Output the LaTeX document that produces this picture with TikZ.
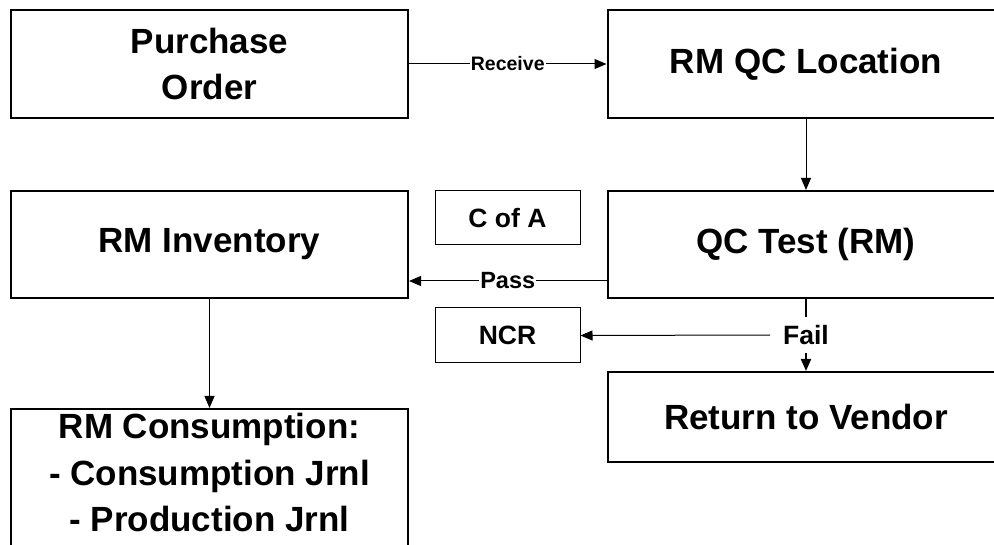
\documentclass[tikz,border=0pt]{standalone}
\usepackage{fontspec}
\setmainfont{Liberation Sans}
\usetikzlibrary{arrows.meta}
\tikzset{
  bigbox/.style={draw, line width=2pt, rectangle, minimum width=397pt, inner sep=0pt, align=center,
    font=\bfseries\fontsize{35}{46}\selectfont},
  smallbox/.style={draw, line width=1pt, rectangle, minimum width=145pt, minimum height=54pt, inner sep=0pt,
    font=\bfseries\fontsize{26.5}{30}\selectfont},
  conn/.style={line width=1pt, -{Triangle[length=12pt,width=10pt]}},
  lbl/.style={fill=white, inner sep=1pt},
}
\begin{document}
\begin{tikzpicture}[x=1pt,y=-1pt]
\useasboundingbox (0,0) rectangle (994,545);
\fill[white] (0,0) rectangle (994,545);
\clip (0,0) rectangle (994,545);
% boxes
\node[bigbox, minimum height=108pt] (po) at (209.5,64) {Purchase\\Order};
\node[bigbox, minimum height=108pt] (rmqc) at (806,64) {RM QC Location};
\node[bigbox, minimum height=107pt] (inv) at (209.5,244.5) {RM Inventory};
\node[bigbox, minimum height=107pt] (qct) at (806,244.5) {QC Test (RM)};
\node[bigbox, minimum height=90pt] (rtv) at (806,417) {Return to Vendor};
\node[bigbox, minimum height=170pt, anchor=north] (cons) at (209.5,408) {};
\node[anchor=north, inner sep=0pt, align=center, font=\bfseries\fontsize{35}{46.5}\selectfont] (constext) at (209.5,413)
  {RM Consumption:\\- Consumption Jrnl\\- Production Jrnl};
\node[smallbox] (coa) at (507.5,218) {C of A};
\node[smallbox, minimum height=55pt] (ncr) at (507.5,335.5) {NCR};
% connectors
\draw[conn] (po.east) -- node[lbl, font=\bfseries\fontsize{19.5}{22}\selectfont] {Receive} (rmqc.west);
\draw[conn] (rmqc.south) -- (qct.north);
\draw[conn] ([yshift=-36.5pt]qct.west) -- node[lbl, font=\bfseries\fontsize{23.5}{26}\selectfont] {Pass} ([yshift=-36.5pt]inv.east);
\draw[conn] (inv.south) -- (cons.north);
\draw[conn, line width=2pt] (qct.south) -- node[fill=white, inner xsep=12pt, inner ysep=8pt, font=\bfseries\fontsize{26.5}{30}\selectfont] (fail) {Fail} (rtv.north);
\draw[conn] (fail.west) -- (ncr.east);
\end{tikzpicture}
\end{document}
